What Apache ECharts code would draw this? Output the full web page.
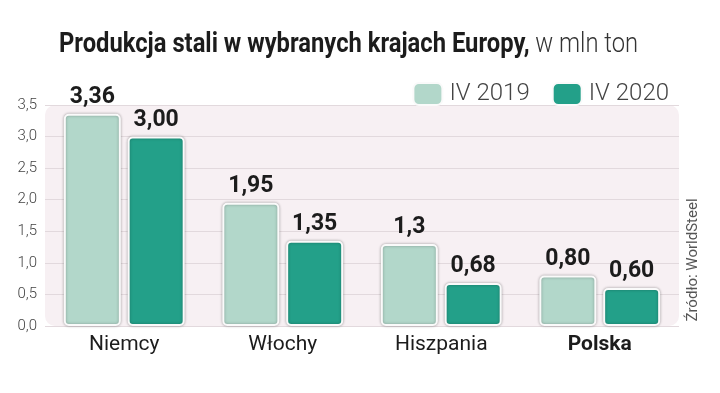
<!DOCTYPE html>
<html><head><meta charset="utf-8">
<script src="https://cdn.jsdelivr.net/npm/echarts@6/dist/echarts.min.js"></script>
<style>html,body{margin:0;padding:0;background:#fff}#c{width:720px;height:393px}</style>
</head><body><div id="c"></div>
<script>
const categories = ['Niemcy', 'Włochy', 'Hiszpania', 'Polska'];
const series2019 = [3.36, 1.95, 1.3, 0.80];
const series2020 = [3.00, 1.35, 0.68, 0.60];
const labels2019 = ['3,36', '1,95', '1,3', '0,80'];
const labels2020 = ['3,00', '1,35', '0,68', '0,60'];
const seriesNames = ['IV 2019', 'IV 2020'];
const yTicks = [0, 0.5, 1, 1.5, 2, 2.5, 3, 3.5];
const titleBold = 'Produkcja stali w wybranych krajach Europy,';
const titleLight = ' w mln ton';
const sourceText = 'Źródło: WorldSteel';

const chart = echarts.init(document.getElementById('c'));
const G = {left: 45, right: 41, top: 105, bottom: 67};
const barStyle = (color) => ({
  color: color, borderColor: '#fafafa', borderWidth: 2, borderRadius: 4,
  shadowColor: 'rgba(0,0,0,0.3)', shadowBlur: 3
});
const mkLabel = (arr) => ({
  show: true, position: 'top', distance: 5,
  formatter: p => arr[p.dataIndex],
  fontFamily: 'Roboto', fontWeight: 'bold', fontSize: 23, color: '#1c1c1c'
});
chart.setOption({
  animation: false,
  legend: {
    data: seriesNames, right: 46, top: 77, itemWidth: 29, itemHeight: 22, itemGap: 22,
    icon: 'roundRect',
    textStyle: {fontFamily: 'Roboto', fontWeight: 300, fontSize: 24, color: '#444', padding: [0,0,0,2]}
  },
  graphic: [
    {type: 'rect', z: -10, shape: {x: G.left, y: G.top, width: 720 - G.left - G.right, height: 393 - G.top - G.bottom, r: 10},
     style: {fill: '#f7f0f3'}},
    {type: 'text', x: 59, y: 45, scaleX: 0.88, originX: 0, style: {
      text: '{b|' + titleBold + '}{l|' + titleLight + '}', verticalAlign: 'middle',
      rich: {
        b: {fontFamily: 'Roboto', fontWeight: 'bold', fontSize: 27, fill: '#1c1c1c'},
        l: {fontFamily: 'Roboto', fontWeight: 300, fontSize: 27, fill: '#333'}
      }}},
    {type: 'text', x: 693, y: 260, rotation: Math.PI / 2, style: {
      text: sourceText, fontFamily: 'Roboto', fontSize: 15, fill: '#555',
      align: 'center', verticalAlign: 'middle'}}
  ],
  grid: {left: G.left, right: G.right, top: G.top, bottom: G.bottom},
  xAxis: {
    type: 'category',
    data: categories.map((c, i) => i === 3 ? {value: c, textStyle: {fontWeight: 'bold'}} : c),
    axisLine: {show: false}, axisTick: {show: false},
    axisLabel: {fontFamily: 'Roboto', fontSize: 21, color: '#1c1c1c', margin: 8}
  },
  yAxis: {
    type: 'value', min: 0, max: 3.5, interval: 0.5,
    axisLabel: {fontFamily: 'Roboto', fontWeight: 300, fontSize: 15, color: '#444', margin: 8,
      formatter: v => yTicks.includes(v) ? v.toFixed(1).replace('.', ',') : ''},
    splitLine: {lineStyle: {color: '#e2d9dd', width: 1}},
    axisLine: {show: false}, axisTick: {show: false}
  },
  series: [
    {name: seriesNames[0], type: 'bar', data: series2019, barWidth: 57, barGap: '12%',
     itemStyle: barStyle('#b2d7ca'), label: mkLabel(labels2019)},
    {name: seriesNames[1], type: 'bar', data: series2020, barWidth: 57,
     itemStyle: barStyle('#23a089'), label: mkLabel(labels2020)}
  ]
});
</script></body></html>
